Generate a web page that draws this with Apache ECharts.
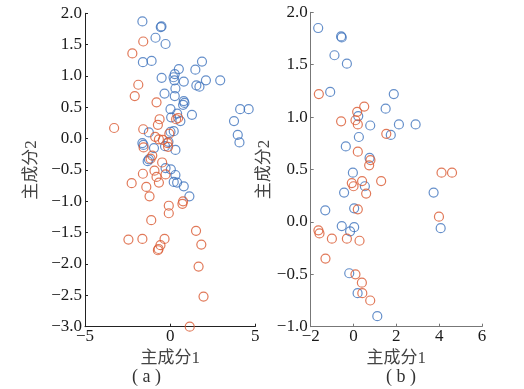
<!DOCTYPE html>
<html><head><meta charset="utf-8">
<script src="https://cdn.jsdelivr.net/npm/echarts@6/dist/echarts.min.js"></script>
<style>html,body{margin:0;padding:0;background:#fff}#c{width:524px;height:389px}</style>
</head><body><div id="c"></div>
<script>
const xTicksA = [-5, 0, 5];
const yTicksA = [-3, 2];
const xTicksB = [-2, 6];
const yTicksB = [-1, 2];
const axisNameX = '主成分1';
const axisNameY = '主成分2';
const captions = ['( a )', '( b )'];

const blueA = [[-1.63,1.87],[-0.55,1.78],[-0.51,1.79],[-0.86,1.61],[-0.27,1.51],
[-1.60,1.22],[-1.09,1.24],[0.51,1.11],[1.87,1.23],[1.48,1.10],
[0.27,1.03],[0.20,0.98],[0.25,0.93],[-0.50,0.97],[0.80,0.91],[2.10,0.93],[2.94,0.93],
[1.54,0.85],[1.72,0.83],[0.31,0.80],[-0.33,0.72],[0.27,0.68],
[0.80,0.60],[0.84,0.57],[0.76,0.54],[0.02,0.47],[4.11,0.47],[4.61,0.47],
[1.28,0.38],[0.41,0.40],[0.06,0.34],[0.60,0.28],[3.75,0.28],
[0.21,0.12],[0.02,0.11],[-1.25,0.10],[3.97,0.06],[4.07,-0.06],
[-1.63,-0.07],[-1.57,-0.10],[-0.10,-0.05],[-0.30,-0.12],[-0.95,-0.15],[0.31,-0.18],
[-1.25,-0.33],[-1.32,-0.36],[-0.27,-0.47],[0.04,-0.49],[0.31,-0.58],[0.21,-0.69],[0.41,-0.70],[0.80,-0.76],[1.13,-0.92]];

const orangeA = [[-1.58,1.55],[-2.22,1.36],[-1.87,0.86],[-2.08,0.68],[-0.80,0.58],[-3.29,0.17],
[-0.62,0.31],[-0.72,0.22],[0.35,0.31],[0.47,0.33],[-1.58,0.15],[-0.05,0.08],[-0.88,0.03],[-0.66,-0.01],
[-0.43,-0.02],[-0.15,-0.07],[-0.12,-0.13],[-1.56,-0.14],[-1.05,-0.27],[-1.15,-0.32],[-0.47,-0.38],
[-1.60,-0.56],[-0.92,-0.51],[-0.80,-0.61],[-0.27,-0.57],[-0.66,-0.70],[-2.26,-0.71],[-1.40,-0.77],
[-1.21,-0.92],[-0.08,-1.07],[0.76,-1.00],[0.72,-1.04],[-0.08,-1.19],[-1.11,-1.30],[1.52,-1.47],
[-2.45,-1.61],[-1.63,-1.60],[-0.33,-1.60],[-0.57,-1.70],[-0.72,-1.78],[-0.68,-1.76],[1.83,-1.69],
[1.67,-2.04],[1.96,-2.52],[1.15,-3.00]];

const blueB = [[-1.65,1.85],[-0.58,1.77],[-0.55,1.76],[-0.89,1.59],[-0.31,1.51],[-1.09,1.24],[1.88,1.22],
[1.50,1.08],[0.22,1.01],[0.78,0.92],[2.12,0.93],[2.90,0.93],[1.74,0.83],[0.25,0.81],[-0.36,0.72],
[0.75,0.61],[-0.03,0.47],[0.53,0.34],[3.74,0.28],[-0.44,0.28],[-1.32,0.11],[0.03,0.13],[-0.55,-0.04],
[0.03,-0.05],[-0.16,-0.09],[4.07,-0.06],[-0.20,-0.49],[0.19,-0.68],[1.11,-0.90]];

const orangeB = [[-1.62,1.22],[0.50,1.10],[0.17,1.05],[-0.58,0.96],[0.09,0.97],[0.20,0.93],[1.53,0.84],
[0.20,0.67],[0.79,0.59],[0.73,0.54],[4.11,0.47],[4.60,0.47],[-0.08,0.37],[0.00,0.34],[0.40,0.39],
[1.29,0.39],[0.59,0.27],[0.20,0.12],[-1.64,-0.08],[-1.59,-0.11],[-1.01,-0.16],[-0.31,-0.16],[0.28,-0.18],
[3.99,0.05],[-1.31,-0.35],[0.09,-0.50],[0.39,-0.58],[0.41,-0.68],[0.78,-0.75]];

const BLUE = '#3f73bd', ORANGE = '#d9582f';
const FONT = '"Liberation Serif", "Noto Sans CJK SC", serif';
const numFmt = d => v => (v < 0 ? '\u2212' : '') + Math.abs(v).toFixed(d);

function xAxis(gi, ticks, step, lineColor) {
  return { gridIndex: gi, type: 'value', min: ticks[0], max: ticks[ticks.length-1], interval: step,
    name: axisNameX, nameLocation: 'middle', nameGap: 19,
    nameTextStyle: { fontFamily: FONT, fontSize: 17, color: '#444', verticalAlign: 'top' },
    axisLine: { show: true, onZero: false, lineStyle: { color: lineColor, width: 1 } },
    axisTick: { show: true, inside: true, length: 3, lineStyle: { color: lineColor } },
    axisLabel: { margin: 1, fontFamily: FONT, fontSize: 17, color: '#1a1a1a', formatter: numFmt(0) },
    splitLine: { show: false } };
}
function yAxis(gi, ticks, gap, lineColor) {
  return { gridIndex: gi, type: 'value', min: ticks[0], max: ticks[1], interval: 0.5,
    name: axisNameY, nameLocation: 'middle', nameGap: gap, nameRotate: 90,
    nameTextStyle: { fontFamily: FONT, fontSize: 17, color: '#444' },
    axisLine: { show: true, onZero: false, lineStyle: { color: lineColor, width: 1 } },
    axisTick: { show: true, inside: true, length: 3, lineStyle: { color: lineColor } },
    axisLabel: { margin: 3, fontFamily: FONT, fontSize: 17, color: '#1a1a1a', formatter: numFmt(1) },
    splitLine: { show: false } };
}
function sc(data, color, xi) {
  return { type: 'scatter', xAxisIndex: xi, yAxisIndex: xi, data: data, symbol: 'circle', symbolSize: 9,
    itemStyle: { color: 'rgba(255,255,255,0)', borderColor: color, borderWidth: 1.2 },
    emphasis: { disabled: true } };
}

const chart = echarts.init(document.getElementById('c'), null, { renderer: 'canvas' });
chart.setOption({
  animation: false,
  backgroundColor: '#fff',
  grid: [
    { left: 85, top: 13.3, width: 170.3, height: 313.4 },
    { left: 310.7, top: 12.3, width: 171.3, height: 314.4 }
  ],
  xAxis: [ xAxis(0, xTicksA, 5, '#222'), xAxis(1, xTicksB, 2, '#777') ],
  yAxis: [ yAxis(0, yTicksA, 45, '#222'), yAxis(1, yTicksB, 30, '#777') ],
  series: [ sc(blueA, BLUE, 0), sc(orangeA, ORANGE, 0), sc(blueB, BLUE, 1), sc(orangeB, ORANGE, 1) ],
  graphic: [
    { type: 'text', left: 132, top: 368, style: { text: captions[0], font: '18px ' + FONT, fill: '#333' } },
    { type: 'text', left: 386, top: 368, style: { text: captions[1], font: '18px ' + FONT, fill: '#333' } }
  ]
});
</script></body></html>
